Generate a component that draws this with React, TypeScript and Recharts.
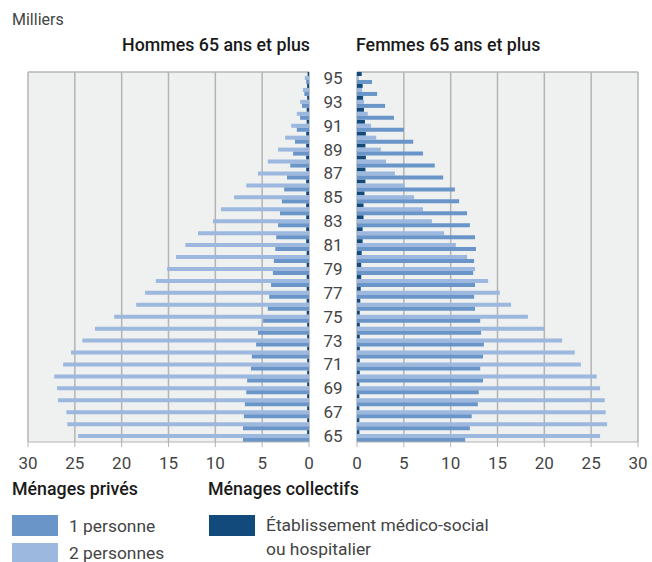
import { BarChart, Bar, XAxis, YAxis, CartesianGrid } from "recharts";

const ages = [95, 94, 93, 92, 91, 90, 89, 88, 87, 86, 85, 84, 83, 82, 81, 80, 79, 78, 77, 76, 75, 74, 73, 72, 71, 70, 69, 68, 67, 66, 65];

// Hommes (milliers)
const menOne = [0.3, 0.5, 0.75, 0.95, 1.3, 1.5, 1.7, 2.0, 2.35, 2.65, 2.9, 3.1, 3.3, 3.5, 3.6, 3.75, 3.85, 4.05, 4.25, 4.4, 4.9, 5.45, 5.65, 6.1, 6.2, 6.6, 6.7, 6.85, 6.95, 7.05, 7.05];
const menTwo = [0.45, 0.65, 0.95, 1.3, 1.9, 2.55, 3.3, 4.4, 5.45, 6.7, 8.0, 9.4, 10.25, 11.85, 13.2, 14.2, 15.15, 16.35, 17.5, 18.45, 20.8, 22.85, 24.2, 25.4, 26.25, 27.2, 26.9, 26.8, 25.9, 25.8, 24.65];
const menEtab = [0.15, 0.2, 0.2, 0.25, 0.25, 0.3, 0.3, 0.3, 0.3, 0.3, 0.3, 0.3, 0.3, 0.3, 0.3, 0.25, 0.25, 0.25, 0.25, 0.25, 0.25, 0.2, 0.2, 0.2, 0.2, 0.2, 0.2, 0.2, 0.2, 0.2, 0.2];

// Femmes (milliers)
const womenOne = [1.6, 2.15, 3.0, 3.95, 5.0, 6.0, 7.05, 8.3, 9.2, 10.45, 10.9, 11.75, 12.05, 12.6, 12.7, 12.5, 12.4, 12.6, 12.5, 12.6, 13.15, 13.25, 13.55, 13.45, 13.15, 13.45, 13.0, 12.9, 12.25, 12.05, 11.55];
const womenTwo = [0.2, 0.55, 0.75, 1.15, 1.5, 2.05, 2.55, 3.1, 4.05, 5.1, 6.1, 7.05, 8.0, 9.3, 10.55, 11.75, 12.6, 14.0, 15.25, 16.45, 18.25, 20.05, 21.9, 23.25, 23.9, 25.6, 25.95, 26.45, 26.55, 26.7, 25.95];
const womenEtab = [0.5, 0.6, 0.65, 0.75, 0.85, 0.95, 0.9, 0.95, 0.9, 0.9, 0.8, 0.7, 0.7, 0.6, 0.6, 0.5, 0.45, 0.45, 0.4, 0.35, 0.3, 0.3, 0.3, 0.3, 0.3, 0.3, 0.25, 0.25, 0.25, 0.25, 0.25];

const xTicks = [0, 5, 10, 15, 20, 25, 30];

const menData = ages.map((age, i) => ({ age, one: menOne[i], two: menTwo[i], etab: menEtab[i] }));
const womenData = ages.map((age, i) => ({ age, one: womenOne[i], two: womenTwo[i], etab: womenEtab[i] }));

const C_ONE = "#6a95c9";
const C_TWO = "#9cb8de";
const C_ETAB = "#134a7c";
const GRID = "#b4b4b4";
const TEXT = "#444";
const DARK = "#1a1a1a";
const FONT = "Roboto, 'Noto Sans', sans-serif";

const tickStyle = { fill: TEXT, fontSize: 17, fontFamily: FONT };

const AgeTick = (props: any) => {
  const { y, payload } = props;
  if (payload.value % 2 === 0) return <g />;
  return (
    <text x={23} y={y} dy={6} textAnchor="middle" fill={TEXT} fontSize={17} fontFamily={FONT}>
      {payload.value}
    </text>
  );
};

export default function App() {
  return (
    <div style={{ position: "absolute", left: 0, top: 0, width: 652, height: 562, background: "#fff", fontFamily: FONT, color: TEXT }}>
      <div style={{ position: "absolute", left: 12, top: 10, fontSize: 16 }}>Milliers</div>
      <div style={{ position: "absolute", right: 652 - 310, top: 34, fontSize: 17.8, fontWeight: 500, color: DARK }}>
        Hommes 65 ans et plus
      </div>
      <div style={{ position: "absolute", left: 356, top: 34, fontSize: 17.8, fontWeight: 500, color: DARK }}>
        Femmes 65 ans et plus
      </div>

      <div style={{ position: "absolute", left: 0, top: 0 }}>
        <BarChart
          layout="vertical"
          data={menData}
          width={330}
          height={480}
          margin={{ top: 72, right: 21, bottom: 8, left: 28 }}
          barCategoryGap={0}
          barGap={0}
        >
          <CartesianGrid stroke={GRID} strokeWidth={1.5} fill="#eff0f0" horizontalPoints={[72]} />
          <XAxis
            type="number"
            domain={[0, 30]}
            ticks={xTicks}
            reversed
            stroke={GRID}
            tickSize={5}
            tickMargin={10}
            tick={tickStyle}
          />
          <YAxis type="category" dataKey="age" hide />
          <Bar dataKey="etab" fill={C_ETAB} isAnimationActive={false} />
          <Bar dataKey="two" fill={C_TWO} isAnimationActive={false} />
          <Bar dataKey="one" fill={C_ONE} isAnimationActive={false} />
        </BarChart>
      </div>

      <div style={{ position: "absolute", left: 310, top: 0 }}>
        <BarChart
          layout="vertical"
          data={womenData}
          width={342}
          height={480}
          margin={{ top: 72, right: 14, bottom: 8, left: 0 }}
          barCategoryGap={0}
          barGap={0}
        >
          <CartesianGrid stroke={GRID} strokeWidth={1.5} fill="#eff0f0" horizontalPoints={[72]} />
          <XAxis
            type="number"
            domain={[0, 30]}
            ticks={xTicks}
            stroke={GRID}
            tickSize={5}
            tickMargin={10}
            tick={tickStyle}
          />
          <YAxis
            type="category"
            dataKey="age"
            width={47}
            axisLine={false}
            tickLine={false}
            interval={0}
            tick={<AgeTick />}
          />
          <Bar dataKey="etab" fill={C_ETAB} isAnimationActive={false} />
          <Bar dataKey="two" fill={C_TWO} isAnimationActive={false} />
          <Bar dataKey="one" fill={C_ONE} isAnimationActive={false} />
        </BarChart>
      </div>

      <div style={{ position: "absolute", left: 12, top: 478, fontSize: 17.8, fontWeight: 500, color: DARK }}>Ménages privés</div>
      <div style={{ position: "absolute", left: 208, top: 478, fontSize: 17.8, fontWeight: 500, color: DARK }}>Ménages collectifs</div>

      <div style={{ position: "absolute", left: 12, top: 515, width: 46, height: 21, background: C_ONE }} />
      <div style={{ position: "absolute", left: 69, top: 514, fontSize: 17.4, lineHeight: "24px" }}>1 personne</div>
      <div style={{ position: "absolute", left: 12, top: 543, width: 46, height: 21, background: C_TWO }} />
      <div style={{ position: "absolute", left: 69, top: 541, fontSize: 17.4, lineHeight: "24px" }}>2 personnes</div>

      <div style={{ position: "absolute", left: 209, top: 515, width: 46, height: 21, background: C_ETAB }} />
      <div style={{ position: "absolute", left: 266, top: 513, fontSize: 17.4, lineHeight: "24px" }}>
        Établissement médico-social
        <br />
        ou hospitalier
      </div>
    </div>
  );
}
